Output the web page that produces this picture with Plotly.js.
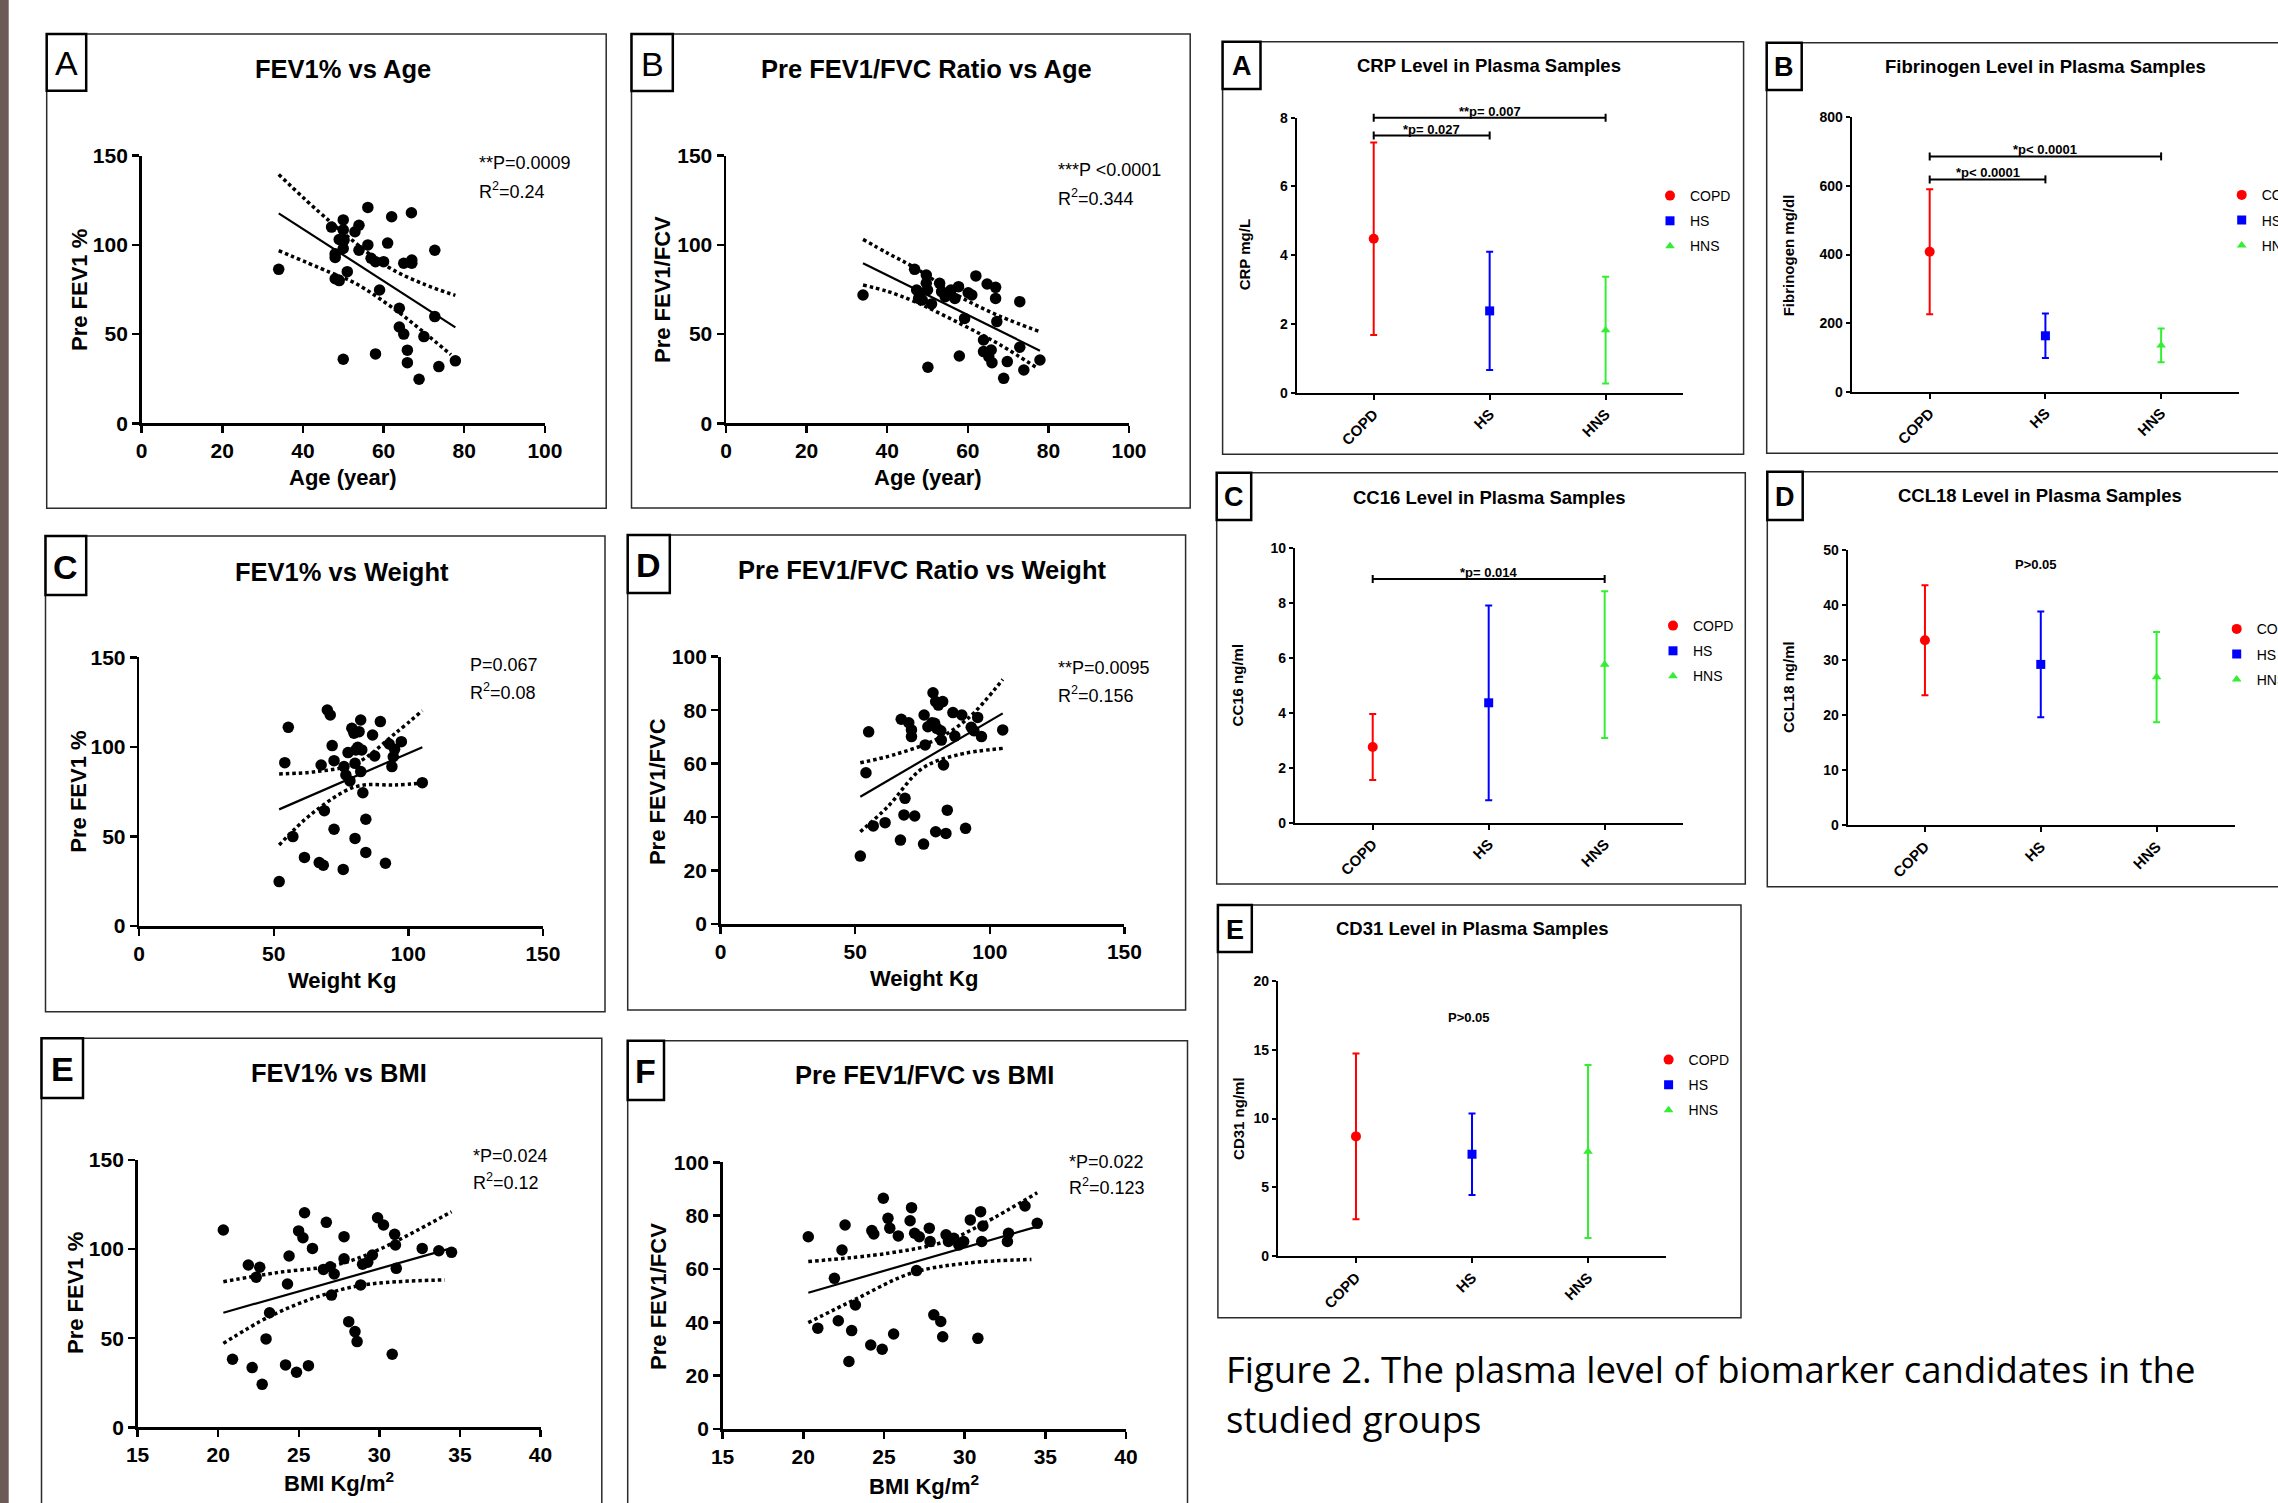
<!DOCTYPE html>
<html><head><meta charset="utf-8">
<script src="https://cdn.plot.ly/plotly-3.0.1.min.js"></script>
<style>html,body{margin:0;padding:0;background:#fff;overflow:hidden}#chart{width:2278px;height:1503px}</style>
</head><body><div id="chart"></div>
<script>
// ---------------- DATA ----------------
// Panel A: FEV1% vs Age
const ageA = [34,47.1,50,50,49,50.2,50,48,48,48,49,51,52.9,53.9,53.9,56.1,56.1,56.9,58,60,59,61,62,66.9,67,67,65,72.7,63.9,63.9,65,70,72.7,65.9,65.9,68.8,73.7,77.8,58,50];
const fevA = [86.3,110,114,108.4,103,102.7,98,95,93,81,80,85,107.4,111,97,121,100,92.5,90.6,90.6,74.7,101,115.8,118,91.5,89.7,89.7,97,64.5,54,50,48.6,59.8,41,34,24.7,31.8,35,38.9,35.9];
const fitA_x = [34,77.8], fitA_y = [117.7,53.8];
const upA_x = [34,46.3,61,70,77.8], upA_y = [139.5,113.9,87.8,78,71.7];
const loA_x = [34,46.3,53,63,70,76.7], loA_y = [96.8,85,78.5,63.5,51,38.5];

// Panel B: Pre FEV1/FVC ratio vs Age
const ageB = [34,46.8,47.3,47.8,48.2,49.7,49.7,50,50.1,51,48.7,53,53.5,54.4,55.8,56.8,57.7,59.2,60.1,61,62,64.8,66.9,66.9,67.2,72.9,57.9,63.9,63.9,65.2,65.8,66,69.8,68.9,72.9,73.9,77.9];
const ratioB = [71.9,86.3,74.7,70,72.9,83.1,78.5,74.7,31.4,66.9,69.1,78.5,73.8,71,74.7,70,76.6,58.8,73.2,71.9,82.6,78.1,76.2,70,57,68.2,37.7,46.7,40.2,37.4,41.1,34,34.6,25.2,42.6,29.9,35.5];
const fitB_x = [34,77.9], fitB_y = [89.7,40.7];
const upB_x = [34,40,47,58,68,77.9], upB_y = [103.1,95.5,87,71,60,51.4];
const loB_x = [34,40,47,58,68,77.2], loB_y = [77.5,74,68,56,44,31];

// Panel C: FEV1% vs Weight
const wtC = [52,54.1,55.4,57.1,61.4,66.9,68.4,67.6,68.8,69.9,71,71.7,72.4,72.4,75.8,76.1,76.8,77.6,78.3,79,79.8,80.2,80.5,81.2,81.7,82.3,82.3,83.1,82.7,84.2,84.2,80.2,86.7,87.5,89.6,91.5,92.9,94.4,93.9,94.9,97.4,105.2];
const fevC = [24.8,91.2,110.9,49.9,38.3,35.4,33.9,89.9,64.4,120.6,117.8,100.7,92.3,54,31.6,89,84.3,96.8,81,110.4,107.6,90.8,98.3,99.8,108.5,86.2,115,74.4,98.3,59.6,41.1,48.9,106.6,94.9,114.1,35,101.6,94.5,89,98.6,102.9,80];
const fitC_x = [52,105.2], fitC_y = [65.1,99.8];
const upC_x = [52,65.8,80.5,95.2,105.2], upC_y = [84.9,86.2,90.8,107.6,120.2];
const loC_x = [52,64.3,80.5,95.2,105.2], loC_y = [45.2,62.9,77.8,78.7,79.7];

// Panel D: Pre FEV1/FVC ratio vs Weight
const wtD = [51.9,54,55,56.7,61.1,66.8,67.1,68.1,68.5,69.9,70.9,70.9,72.1,75.4,75.6,76,77,78.5,78.9,79.9,79.5,80.3,80.9,81.8,82,82.5,82.8,79.9,83.7,84.2,86.3,87,89.6,91,93.1,94.1,95.5,96.9,104.8];
const ratioD = [25.4,56.6,71.9,36.7,37.9,31.4,76.6,40.8,47,75.3,72.6,70.1,40.4,29.9,78.2,67,73.8,75.3,86.5,83.2,75.1,73.2,81.9,72.3,68.8,83.2,59.5,34.5,33.9,42.6,79.1,70.3,78.2,35.8,73.6,72.3,77.3,70.1,72.6];
const fitD_x = [51.9,104.8], fitD_y = [47.6,78.8];
const upD_x = [51.9,65,80,92,104.8], upD_y = [60.3,63.5,69,77,91.5];
const loD_x = [51.9,62.1,74.9,87.7,104.8], loD_y = [34.5,43.9,58.2,63.2,65.7];

// Panel E: FEV1% vs BMI
const bmiE = [20.32,20.89,21.87,22.11,22.36,22.58,22.73,22.97,23.19,24.18,24.3,24.4,24.86,24.99,25.26,25.36,25.6,25.85,26.53,26.71,26.95,27.03,27.2,27.81,27.81,28.1,28.49,28.62,28.84,28.96,29.28,29.57,29.89,30.26,30.8,30.95,31,31.05,32.66,33.69,34.48];
const fevE = [110.7,38.2,91.1,33.5,84.2,89.8,24.1,49.6,64.3,35,80.4,96.1,30.9,110.2,106.4,120.4,34.6,100.4,88.6,115,90.1,74.2,86,107,94.6,59.3,53.7,48.1,79.9,91.5,92.6,96.7,117.6,113.5,41,108.3,102.3,89.2,100.4,99.1,98.2];
const fitE_x = [20.32,34.43], fitE_y = [64.3,100.4];
const upE_x = [20.32,23.64,27.3,29.77,34.48], upE_y = [81.7,86.8,91.1,98.9,121];
const loE_x = [20.32,23.15,26.09,29.03,34.06], loE_y = [47.1,62,73,79.9,82.7];

// Panel F: Pre FEV1/FVC vs BMI
const bmiF = [20.31,20.9,21.93,22.17,22.4,22.59,22.83,23,23.23,24.18,24.25,24.37,24.89,24.96,25.25,25.36,25.6,25.89,26.62,26.71,26.9,27.02,27.19,27.81,27.86,28.09,28.52,28.64,28.85,29,29.33,29.64,29.94,30.35,30.82,30.99,31.06,31.13,32.65,32.72,33.74,34.5];
const ratioF = [72.1,37.8,56.5,40.6,67.1,76.5,25.3,36.9,46.5,31.5,74.4,73.1,29.9,86.5,79,75.3,35.6,72.4,78.1,83,73.4,59.4,72.1,75.3,70.3,42.8,40.3,34.6,72.8,70.3,71.5,69,70.3,78.4,34,81.5,70.3,76.1,70.3,73.4,83.6,77.1];
const fitF_x = [20.31,34.5], fitF_y = [51.1,75.9];
const upF_x = [20.31,25.25,28.8,31.18,34.5], upF_y = [62.8,65.9,70.3,77.1,88.6];
const loF_x = [20.31,23.35,26.67,29.99,34.14], loF_y = [39.9,49,58.4,62.1,63.6];

const scatterTitles = ['FEV1% vs Age','Pre FEV1/FVC Ratio vs Age','FEV1% vs Weight','Pre FEV1/FVC Ratio vs Weight','FEV1% vs BMI','Pre FEV1/FVC vs BMI'];
const scatterXTitles = ['Age (year)','Age (year)','Weight Kg','Weight Kg','BMI Kg/m<sup>2</sup>','BMI Kg/m<sup>2</sup>'];
const scatterYTitles = ['Pre FEV1 %','Pre FEV1/FCV','Pre FEV1 %','Pre FEV1/FVC','Pre FEV1 %','Pre FEV1/FCV'];
const scatterPText = ['**P=0.0009','***P <0.0001','P=0.067','**P=0.0095','*P=0.024','*P=0.022'];
const scatterRText = ['R<sup>2</sup>=0.24','R<sup>2</sup>=0.344','R<sup>2</sup>=0.08','R<sup>2</sup>=0.156','R<sup>2</sup>=0.12','R<sup>2</sup>=0.123'];
const scatterLetters = ['A','B','C','D','E','F'];

// Biomarker panels
const groups = ['COPD','HS','HNS'];
const crpMean = [4.48,2.38,1.82],  crpSD = [2.8,1.72,1.55];
const fibMean = [408,163,135],     fibSD = [182,65,49];
const cc16Mean = [2.75,4.36,5.75], cc16SD = [1.2,3.54,2.67];
const ccl18Mean = [33.6,29.2,26.9],ccl18SD = [10,9.6,8.2];
const cd31Mean = [8.7,7.4,7.6],    cd31SD = [6.03,2.97,6.3];
const bioTitles = ['CRP Level in Plasma Samples','Fibrinogen Level in Plasma Samples','CC16 Level in Plasma Samples','CCL18 Level in Plasma Samples','CD31 Level in Plasma Samples'];
const bioYTitles = ['CRP mg/L','Fibrinogen mg/dl','CC16 ng/ml','CCL18 ng/ml','CD31 ng/ml'];
const bioLetters = ['A','B','C','D','E'];
// significance bars: [from group, to group, y value, label]
const crpSig = [[0,2,8.0,'**p= 0.007'],[0,1,7.48,'*p= 0.027']];
const fibSig = [[0,2,686,'*p< 0.0001'],[0,1,619,'*p< 0.0001']];
const cc16Sig = [[0,2,8.86,'*p= 0.014']];
const ccl18Note = [0.96,47.4,'P>0.05'];
const cd31Note = [0.97,17.36,'P>0.05'];

const caption1 = 'Figure 2. The plasma level of biomarker candidates in the';
const caption2 = 'studied groups';

// ---------------- LAYOUT HELPERS ----------------
const W = 2278, H = 1503;
const FONT = 'Liberation Sans, Arial, Helvetica, sans-serif';
const PX = v => v / W;
const PY = v => 1 - v / H;
const sfx = i => (i === 1 ? '' : String(i));

const traces = [];
const shapes = [];
const annotations = [];
const layout = {
  width: W, height: H,
  margin: {l:0, r:0, t:0, b:0, pad:0, autoexpand:false},
  paper_bgcolor: '#ffffff', plot_bgcolor: 'rgba(0,0,0,0)',
  showlegend: true, hovermode: false
};

function ann(text, x, y, font, opt) {
  annotations.push(Object.assign({text:text, x:PX(x), y:PY(y), xref:'paper', yref:'paper', showarrow:false,
    xanchor:'center', yanchor:'middle', font:Object.assign({family:FONT, size:14, color:'#000'}, font||{})}, opt||{}));
}
function rect(x0,y0,x1,y1,lw,color,fill) {
  shapes.push({type:'rect', xref:'paper', yref:'paper', x0:PX(x0), x1:PX(x1), y0:PY(y1), y1:PY(y0),
    line:{width:lw, color:color}, fillcolor:fill||'rgba(0,0,0,0)', layer:'above'});
}

// left decorative bar
shapes.push({type:'rect', xref:'paper', yref:'paper', x0:0, x1:PX(8.7), y0:0, y1:1, line:{width:0}, fillcolor:'#6b5a55', layer:'below'});

// ---------------- SCATTER PANELS ----------------
const scGeom = [
  {xd:[141.6,544.9], yd:[155.7,423.3], xr:[0,100], yr:[0,150], xdt:20, ydt:50,
   frame:[46.7,34,606.2,508.3], lbl:[46.7,34,86.2,90.7], lblBold:false, title:[343.2,69], xt:[343,478], yt:[79,290], st:[476.5,163,190]},
  {xd:[726,1129], yd:[155.7,423.3], xr:[0,100], yr:[0,150], xdt:20, ydt:50,
   frame:[631.5,34,1190.2,508], lbl:[631.5,34,672.8,91], lblBold:false, title:[926.2,69], xt:[928,478], yt:[662,290], st:[1056.3,170,197]},
  {xd:[139.2,542.9], yd:[657.3,926], xr:[0,150], yr:[0,150], xdt:50, ydt:50,
   frame:[45.5,536,605,1011.7], lbl:[45.5,536,86.2,595], lblBold:true, title:[342,571.7], xt:[342,980], yt:[79,791.7], st:[467.8,665,691.7]},
  {xd:[720.6,1124.4], yd:[656.7,924], xr:[0,150], yr:[0,100], xdt:50, ydt:20,
   frame:[627.7,535,1185.6,1010], lbl:[627.7,535,669.8,593], lblBold:true, title:[922.3,570], xt:[923.5,978], yt:[657.4,791.7], st:[1056.3,668,694]},
  {xd:[137.6,540.5], yd:[1160,1427.3], xr:[15,40], yr:[0,150], xdt:5, ydt:50,
   frame:[41.5,1038.3,601.8,1560], lbl:[41.5,1038.3,83,1098], lblBold:true, title:[339.3,1073.3], xt:[339,1482], yt:[75,1293], st:[471.3,1156,1181.7]},
  {xd:[722.6,1126], yd:[1162.3,1429], xr:[15,40], yr:[0,100], xdt:5, ydt:20,
   frame:[627.7,1040.7,1187.5,1560], lbl:[627.7,1040.7,664,1100], lblBold:true, title:[924.2,1075], xt:[924,1485], yt:[658.2,1296.7], st:[1067,1161.7,1186.7]}
];
const scSeries = [
  {x:ageA, y:fevA, fx:fitA_x, fy:fitA_y, ux:upA_x, uy:upA_y, lx:loA_x, ly:loA_y},
  {x:ageB, y:ratioB, fx:fitB_x, fy:fitB_y, ux:upB_x, uy:upB_y, lx:loB_x, ly:loB_y},
  {x:wtC, y:fevC, fx:fitC_x, fy:fitC_y, ux:upC_x, uy:upC_y, lx:loC_x, ly:loC_y},
  {x:wtD, y:ratioD, fx:fitD_x, fy:fitD_y, ux:upD_x, uy:upD_y, lx:loD_x, ly:loD_y},
  {x:bmiE, y:fevE, fx:fitE_x, fy:fitE_y, ux:upE_x, uy:upE_y, lx:loE_x, ly:loE_y},
  {x:bmiF, y:ratioF, fx:fitF_x, fy:fitF_y, ux:upF_x, uy:upF_y, lx:loF_x, ly:loF_y}
];

const tickFontL = {family:FONT, size:21, weight:'bold', color:'#000'};
scGeom.forEach((g, k) => {
  const i = k + 1, s = sfx(i);
  const d = scSeries[k];
  const xa = 'x' + s, ya = 'y' + s;
  layout['xaxis' + s] = {domain:[PX(g.xd[0]), PX(g.xd[1])], range:g.xr, anchor:ya, showline:true, linewidth:2.5, linecolor:'#000',
    ticks:'outside', ticklen:7, tickwidth:2.5, tickcolor:'#000', tick0:g.xr[0], dtick:g.xdt, showgrid:false, zeroline:false, tickfont:tickFontL, fixedrange:true};
  layout['yaxis' + s] = {domain:[PY(g.yd[1]), PY(g.yd[0])], range:g.yr, anchor:xa, showline:true, linewidth:2.5, linecolor:'#000',
    ticks:'outside', ticklen:7, tickwidth:2.5, tickcolor:'#000', tick0:0, dtick:g.ydt, showgrid:false, zeroline:false, tickfont:tickFontL, fixedrange:true};
  const common = {type:'scatter', xaxis:xa, yaxis:ya, showlegend:false, hoverinfo:'skip', cliponaxis:false};
  traces.push(Object.assign({}, common, {mode:'lines', x:d.ux, y:d.uy, line:{color:'#000', width:3.5, dash:'3.5px,3px', shape:'spline', smoothing:1}}));
  traces.push(Object.assign({}, common, {mode:'lines', x:d.lx, y:d.ly, line:{color:'#000', width:3.5, dash:'3.5px,3px', shape:'spline', smoothing:1}}));
  traces.push(Object.assign({}, common, {mode:'lines', x:d.fx, y:d.fy, line:{color:'#000', width:2.2}}));
  traces.push(Object.assign({}, common, {mode:'markers', x:d.x, y:d.y, marker:{size:11.5, color:'#000'}}));

  rect(g.frame[0], g.frame[1], g.frame[2], g.frame[3], 1.5, '#2b2b2b');
  rect(g.lbl[0], g.lbl[1], g.lbl[2], g.lbl[3], 2.5, '#000', '#fff');
  ann(scatterLetters[k], (g.lbl[0]+g.lbl[2])/2, (g.lbl[1]+g.lbl[3])/2 + 1, {size:34, weight: g.lblBold ? 'bold' : 'normal'});
  ann(scatterTitles[k], g.title[0], g.title[1], {size:25.5, weight:'bold'});
  ann(scatterXTitles[k], g.xt[0], g.xt[1], {size:22, weight:'bold'});
  ann(scatterYTitles[k], g.yt[0], g.yt[1], {size:22, weight:'bold'}, {textangle:-90});
  ann(scatterPText[k], g.st[0], g.st[1], {size:18}, {xanchor:'left'});
  ann(scatterRText[k], g.st[0], g.st[2], {size:18}, {xanchor:'left'});
});

// ---------------- BIOMARKER PANELS ----------------
const bioGeom = [
  {xd:[1296.6,1683.3], yd:[117.7,392.7], xr:[-0.665,2.67], yr:[0,8], ydt:2,
   frame:[1222.6,41.7,1743.6,454.3], lbl:[1222.6,41.7,1260.5,89], title:[1489.4,65.7], yt:[1244.3,255], leg:[1650,180]},
  {xd:[1851.7,2239], yd:[117.3,391.7], xr:[-0.674,2.673], yr:[0,800], ydt:200,
   frame:[1766.7,42.7,2320,453.3], lbl:[1766.7,42.7,1801.7,90], title:[2045.7,66.7], yt:[1788.3,255], leg:[2221.7,179.3]},
  {xd:[1294.9,1682.6], yd:[547.7,822.7], xr:[-0.671,2.672], yr:[0,10], ydt:2,
   frame:[1216.7,472.7,1745.3,884], lbl:[1216.7,472.7,1251.2,520], title:[1489.4,497.3], yt:[1237.4,685], leg:[1653,610]},
  {xd:[1847.7,2235], yd:[550,825], xr:[-0.667,2.677], yr:[0,50], ydt:10,
   frame:[1767.3,471.7,2320,886.7], lbl:[1767.3,471.7,1802.7,520], title:[2040,495], yt:[1788.3,686.7], leg:[2216.7,613.3]},
  {xd:[1277.9,1666], yd:[981,1256], xr:[-0.673,2.672], yr:[0,20], ydt:5,
   frame:[1217.9,905,1741,1317.7], lbl:[1217.9,905,1251.8,952], title:[1472.5,928.3], yt:[1238.6,1118.3], leg:[1648.6,1044]}
];
const bioSeries = [
  {m:crpMean, sd:crpSD, sig:crpSig},
  {m:fibMean, sd:fibSD, sig:fibSig},
  {m:cc16Mean, sd:cc16SD, sig:cc16Sig},
  {m:ccl18Mean, sd:ccl18SD, note:ccl18Note},
  {m:cd31Mean, sd:cd31SD, note:cd31Note}
];
const gColors = ['#ff0000','#0000ff','#33ee33'];
const gSymbols = ['circle','square','triangle-up'];
const gSizes = [10,9,8.5];

bioGeom.forEach((g, k) => {
  const i = k + 7, s = sfx(i);
  const d = bioSeries[k];
  const xa = 'x' + s, ya = 'y' + s;
  const legId = 'legend' + sfx(k + 1);
  layout['xaxis' + s] = {domain:[PX(g.xd[0]), PX(g.xd[1])], type:'category', categoryorder:'array', categoryarray:groups,
    range:g.xr, anchor:ya, showline:true, linewidth:2, linecolor:'#000', ticks:'outside', ticklen:5, tickwidth:2, tickcolor:'#000',
    tickangle:-45, showgrid:false, zeroline:false, tickfont:{family:FONT, size:15, weight:'bold', color:'#000'}, fixedrange:true};
  layout['yaxis' + s] = {domain:[PY(g.yd[1]), PY(g.yd[0])], range:g.yr, anchor:xa, showline:true, linewidth:2, linecolor:'#000',
    ticks:'outside', ticklen:4, tickwidth:2, tickcolor:'#000', tick0:0, dtick:g.ydt, showgrid:false, zeroline:false,
    tickfont:{family:FONT, size:14, weight:'bold', color:'#000'}, fixedrange:true};
  layout[legId] = {x:PX(g.leg[0]), y:PY(g.leg[1]), xanchor:'left', yanchor:'top', bgcolor:'rgba(0,0,0,0)', borderwidth:0,
    font:{family:FONT, size:14, color:'#000'}, tracegroupgap:4, itemclick:false, itemdoubleclick:false};
  groups.forEach((grp, j) => {
    traces.push({type:'scatter', mode:'markers', x:[grp], y:[d.m[j]], xaxis:xa, yaxis:ya, name:grp, legend:legId,
      legendgroup:'g' + k + '_' + j, hoverinfo:'skip', cliponaxis:false,
      marker:{symbol:gSymbols[j], size:gSizes[j], color:gColors[j]},
      error_y:{type:'data', array:[d.sd[j]], visible:true, color:gColors[j], thickness:2, width:3.5}});
  });
  if (d.sig) {
    d.sig.forEach(sg => {
      const frac = (sg[2] - g.yr[0]) / (g.yr[1] - g.yr[0]);
      shapes.push({type:'line', xref:xa, yref:ya + ' domain', x0:sg[0], x1:sg[1], y0:frac, y1:frac, line:{color:'#000', width:2}, layer:'above'});
      [sg[0], sg[1]].forEach(cx => {
        shapes.push({type:'line', xref:xa, yref:ya + ' domain', ysizemode:'pixel', yanchor:frac, x0:cx, x1:cx, y0:-4, y1:4, line:{color:'#000', width:2}, layer:'above'});
      });
      annotations.push({text:sg[3], x:(sg[0]+sg[1])/2, y:sg[2], xref:xa, yref:ya, showarrow:false, xanchor:'center', yanchor:'bottom', yshift:-3,
        font:{family:FONT, size:13, weight:'bold', color:'#000'}});
    });
  }
  if (d.note) {
    annotations.push({text:d.note[2], x:d.note[0], y:d.note[1], xref:xa, yref:ya, showarrow:false, xanchor:'center', yanchor:'middle',
      font:{family:FONT, size:13, weight:'bold', color:'#000'}});
  }
  rect(g.frame[0], g.frame[1], g.frame[2], g.frame[3], 1.5, '#2b2b2b');
  rect(g.lbl[0], g.lbl[1], g.lbl[2], g.lbl[3], 2.5, '#000', '#fff');
  ann(bioLetters[k], (g.lbl[0]+g.lbl[2])/2, (g.lbl[1]+g.lbl[3])/2 + 1, {size:27, weight:'bold'});
  ann(bioTitles[k], g.title[0], g.title[1], {size:18.5, weight:'bold'});
  ann(bioYTitles[k], g.yt[0], g.yt[1], {size:15, weight:'bold'}, {textangle:-90});
});

// caption
ann(caption1, 1224, 1369, {family:'"Open Sans", "Noto Sans", sans-serif', size:36.5}, {xanchor:'left'});
ann(caption2, 1224, 1419, {family:'"Open Sans", "Noto Sans", sans-serif', size:36.5}, {xanchor:'left'});

layout.shapes = shapes;
layout.annotations = annotations;

Plotly.newPlot('chart', traces, layout, {staticPlot:true, displayModeBar:false});
</script></body></html>
